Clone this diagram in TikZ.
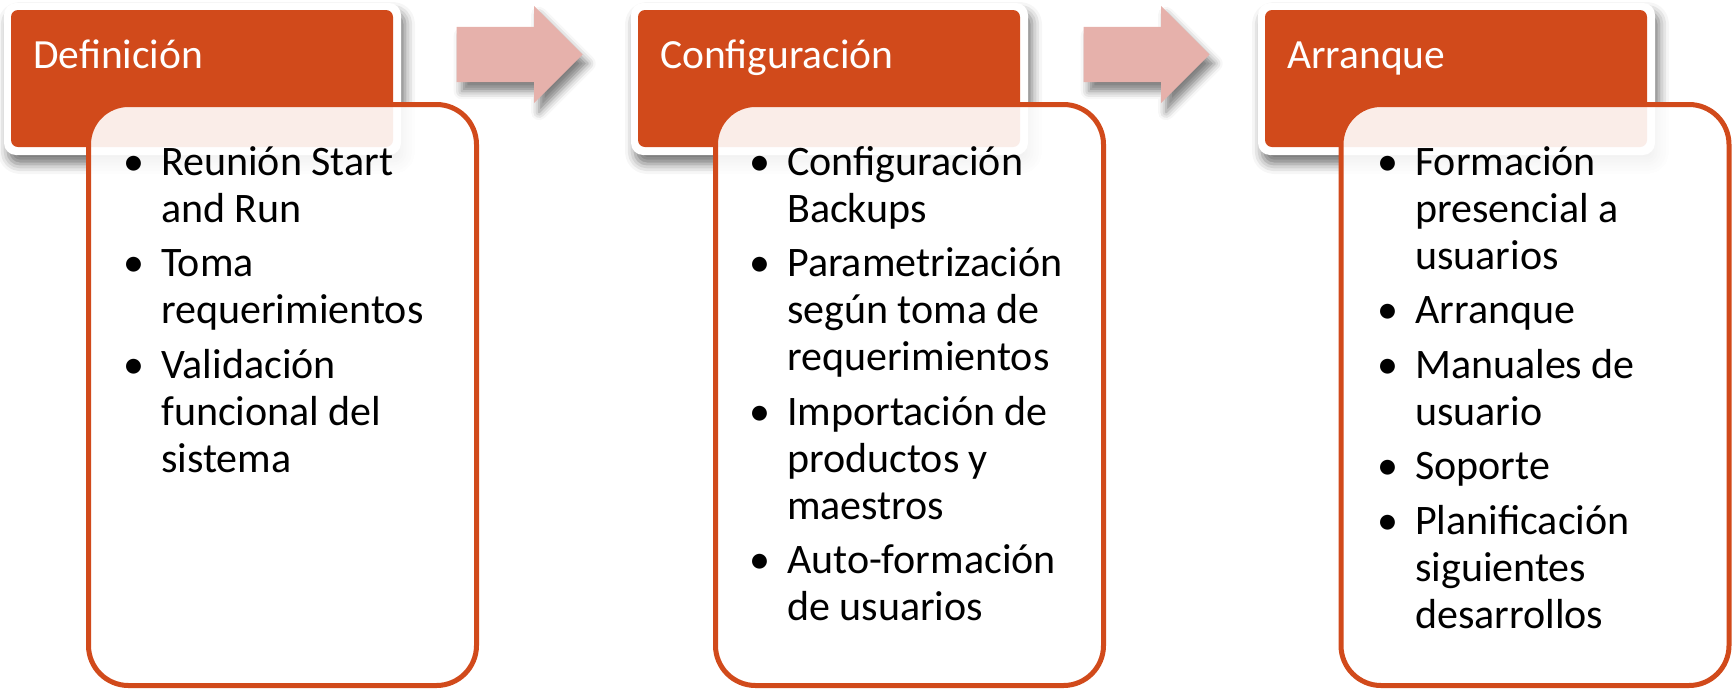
\documentclass[tikz,border=0pt]{standalone}
\usepackage{fontspec}
\setmainfont{Carlito}
\usetikzlibrary{shadows.blur,shapes.arrows}
\definecolor{hdr}{HTML}{D14A1B}
\definecolor{arw}{HTML}{E6B1AB}
\newcommand\bul{\noindent\llap{•\hspace{17pt}}}
\tikzset{
  hdrframe/.style={fill=white, rounded corners=12pt, inner sep=0pt,
    minimum width=397pt, minimum height=152pt,
    blur shadow={shadow xshift=4pt, shadow yshift=-9pt, shadow blur radius=10pt, shadow opacity=55}},
  hdrbox/.style={fill=hdr, rounded corners=7pt, inner sep=0pt,
    minimum width=382pt, minimum height=137pt},
  hdrtext/.style={anchor=base west, inner sep=0pt, text=white, font=\fontsize{41.5}{47}\selectfont},
  stepbox/.style={draw=hdr, line width=5pt, fill=white, fill opacity=0.9, draw opacity=1,
    rounded corners=40pt, inner sep=0pt, minimum width=388pt, minimum height=581pt},
  itemtext/.style={anchor=base west, inner sep=0pt, text=black, font=\fontsize{42}{47}\selectfont},
  flowarrow/.style={single arrow, fill=arw, inner xsep=0pt, inner ysep=27.5pt,
    single arrow head extend=21pt, single arrow head indent=0pt, minimum height=126pt,
    anchor=tip,
    blur shadow={shadow xshift=5pt, shadow yshift=-9pt, shadow blur radius=8pt, shadow opacity=50}}
}
\begin{document}
\begin{tikzpicture}[x=1pt, y=-1pt]
\useasboundingbox (0,0) rectangle (1733,689);
% header frames
\node[hdrframe] (f1) at (202.5,79) {};
\node[hdrframe] (f2) at (829.5,79) {};
\node[hdrframe] (f3) at (1456.5,79) {};
\node[hdrbox] (h1) at (202,78.5) {};
\node[hdrbox] (h2) at (829,78.5) {};
\node[hdrbox] (h3) at (1456,78.5) {};
\node[hdrtext] (ht1) at (33,68) {Definición};
\node[hdrtext] (ht2) at (660,68) {Configuración};
\node[hdrtext] (ht3) at (1287,68) {Arranque};
% arrows
\node[flowarrow] (a1) at (583,54.5) {};
\node[flowarrow] (a2) at (1210,54.5) {};
% content boxes
\node[stepbox] (b1) at (282.5,395) {};
\node[stepbox] (b2) at (909.5,395) {};
\node[stepbox] (b3) at (1535,395) {};
\node[itemtext] (t1) at (161,175) {\parbox[t]{300pt}{\raggedright\setlength\parskip{7.5pt}%
\bul Reunión Start\\and Run\par
\bul Toma\\requerimientos\par
\bul Validación\\funcional del\\sistema}};
\node[itemtext] (t2) at (787,175) {\parbox[t]{300pt}{\raggedright\setlength\parskip{7.5pt}%
\bul Configuración\\Backups\par
\bul Parametrización\\según toma de\\requerimientos\par
\bul Importación de\\productos y\\maestros\par
\bul Auto-formación\\de usuarios}};
\node[itemtext] (t3) at (1415,175) {\parbox[t]{300pt}{\raggedright\setlength\parskip{7.5pt}%
\bul Formación\\presencial a\\usuarios\par
\bul Arranque\par
\bul Manuales de\\usuario\par
\bul Soporte\par
\bul Planificación\\siguientes\\desarrollos}};
\end{tikzpicture}
\end{document}
